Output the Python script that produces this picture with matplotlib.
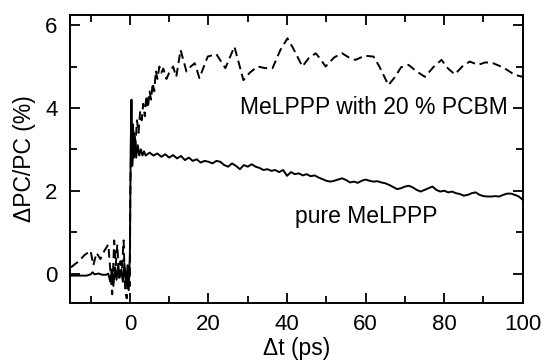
import matplotlib
matplotlib.use("Agg")
import matplotlib.pyplot as plt
from matplotlib.ticker import MultipleLocator

plt.rcParams['font.family'] = ['Liberation Sans', 'DejaVu Sans']

# pure MeLPPP (solid)
t_pure = [-15, -13, -11, -10, -9.5, -9, -8, -7, -6, -5.5, -5, -4.6, -4.2, -3.8, -3.4,
          -3.0, -2.6, -2.2, -1.8, -1.4, -1.0, -0.6, -0.3, 0.0, 0.2, 0.4, 0.6, 0.8, 1.0,
          1.3, 1.6, 2.0, 2.4, 2.8, 3.2, 3.6, 4,
          5, 6, 7, 8, 9, 10, 11, 12, 13, 14, 15, 16, 17, 18, 19, 20, 21, 22, 23, 24, 25,
          26, 27, 28, 29, 30, 31, 32, 33, 34, 35, 36, 37, 38, 39, 40, 41, 42, 43, 44, 45,
          46, 47, 48, 49, 50, 51, 52, 53, 54, 55, 56, 57, 58, 59, 60, 61, 62, 63, 64, 65,
          66, 67, 68, 69, 70, 71, 72, 73, 74, 75, 76, 77, 78, 79, 80, 81, 82, 83, 84, 85,
          86, 87, 88, 89, 90, 91, 92, 93, 94, 95, 96, 97, 98, 99, 100]
pc_pure = [-0.05, -0.05, -0.05, -0.02, 0.03, -0.02, 0.0, -0.03, -0.03, 0.0, -0.2, 0.1, -0.3, 0.15, -0.15,
           0.2, -0.1, 0.1, -0.2, 0.25, -0.3, 0.2, -0.4, 0.5, 3.0, 4.2, 2.6, 3.6, 2.8,
           3.3, 2.8, 3.1, 2.85, 3.0, 2.85, 2.95, 2.85,
           2.92, 2.85, 2.9, 2.82, 2.88, 2.8, 2.86, 2.78, 2.84, 2.74, 2.8, 2.72, 2.76, 2.68, 2.72, 2.7, 2.66, 2.72, 2.7, 2.62, 2.58,
           2.66, 2.6, 2.52, 2.62, 2.58, 2.64, 2.58, 2.55, 2.5, 2.52, 2.48, 2.5, 2.45, 2.5, 2.36, 2.45, 2.4, 2.42, 2.37, 2.4,
           2.35, 2.37, 2.32, 2.28, 2.24, 2.22, 2.24, 2.27, 2.3, 2.26, 2.2, 2.22, 2.19, 2.24, 2.27, 2.24, 2.22, 2.23, 2.2, 2.18,
           2.14, 2.09, 2.04, 2.06, 2.1, 2.12, 2.08, 2.02, 1.98, 2.02, 2.06, 2.1, 2.02, 1.98, 2.0, 1.96, 1.98, 1.94, 1.92, 1.88,
           1.9, 1.94, 1.96, 1.9, 1.87, 1.86, 1.86, 1.87, 1.86, 1.9, 1.93, 1.93, 1.9, 1.86, 1.78]

# MeLPPP with 20 % PCBM (dashed)
t_blend = [-15, -13, -11.5, -10, -9.3, -8.5, -7.5, -6.5, -5.5, -5, -4.5, -4, -3.6, -3.2,
           -2.8, -2.4, -2, -1.6, -1.2, -0.8, -0.4, 0,
           0.1, 0.3, 0.6, 1.0, 1.4, 1.8, 2.2, 2.6, 3.0, 3.4, 3.8, 4.2, 4.6, 5.0, 5.4, 5.8,
           6.2, 6.6, 7.0, 7.5, 8.0, 8.5, 9.3, 10, 11, 11.8, 12.9, 14.4, 15.5, 16.5, 17.7,
           19.8, 22, 24.3, 26.6, 28.9, 30.5, 32.5, 34.5, 36.3, 38.3, 40.1, 41.5, 43.9, 45.5,
           47.3, 48.5, 49.8, 52, 54, 55.7, 57.4, 59.8, 62, 63.5, 65.8, 67.5, 69, 70.9, 73,
           75.1, 77.2, 79.3, 81, 82.7, 84.6, 86.5, 88.6, 90.5, 92.4, 95, 97.9, 100]
pc_blend = [0.15, 0.3, 0.45, 0.55, 0.2, 0.5, 0.35, 0.55, 0.7, 0.1, -0.5, 0.8, 0.2, 0.7,
            -0.1, 0.3, 0.1, 0.8, -0.4, -0.6, 0.2, -0.3,
            2.0, 3.0, 2.7, 3.4, 3.1, 3.7, 3.4, 3.9, 3.7, 4.1, 3.8, 4.3, 4.0, 4.4, 4.2, 4.6,
            4.4, 4.9, 4.7, 5.0, 4.85, 4.95, 4.7, 4.85, 5.0, 4.75, 5.4, 4.88, 5.0, 5.08, 4.72,
            5.24, 5.3, 4.96, 5.48, 4.67, 4.85, 5.0, 4.96, 4.96, 5.4, 5.68, 5.45, 5.0, 5.2,
            5.32, 5.18, 5.0, 5.22, 5.32, 5.22, 5.16, 5.26, 5.24, 5.0, 4.55, 4.75, 4.98, 5.04, 4.88,
            4.75, 4.98, 5.16, 4.95, 4.81, 5.0, 5.12, 5.04, 5.1, 5.08, 4.98, 4.8, 4.75]

fig = plt.figure(figsize=(5.44, 3.61), dpi=100)
ax = fig.add_axes([0.129, 0.162, 0.832, 0.796])

ax.plot(t_blend, pc_blend, color='black', lw=1.4, ls=(0, (4.5, 2.5)))
ax.plot(t_pure, pc_pure, color='black', lw=1.4)

ax.set_xlim(-15.2, 100)
ax.set_ylim(-0.7, 6.24)
ax.xaxis.set_major_locator(MultipleLocator(20))
ax.xaxis.set_minor_locator(MultipleLocator(10))
ax.yaxis.set_major_locator(MultipleLocator(2))
ax.yaxis.set_minor_locator(MultipleLocator(1))
ax.tick_params(which='both', direction='in', top=True, right=True, width=1.3, labelsize=16)
ax.tick_params(which='major', length=7)
ax.tick_params(which='minor', length=5)
ax.tick_params(axis='x', pad=8)
ax.tick_params(axis='y', pad=9)
for s in ax.spines.values():
    s.set_linewidth(1.4)

ax.set_xlabel('\u0394t (ps)', fontsize=16.5, labelpad=2)
ax.set_ylabel('\u0394PC/PC (%)', fontsize=16.5, labelpad=7)

ax.text(28.0, 4.0, 'MeLPPP with 20 % PCBM', fontsize=16.5, ha='left', va='center')
ax.text(42.0, 1.38, 'pure MeLPPP', fontsize=16.5, ha='left', va='center')

plt.savefig('out.png', dpi=100)
